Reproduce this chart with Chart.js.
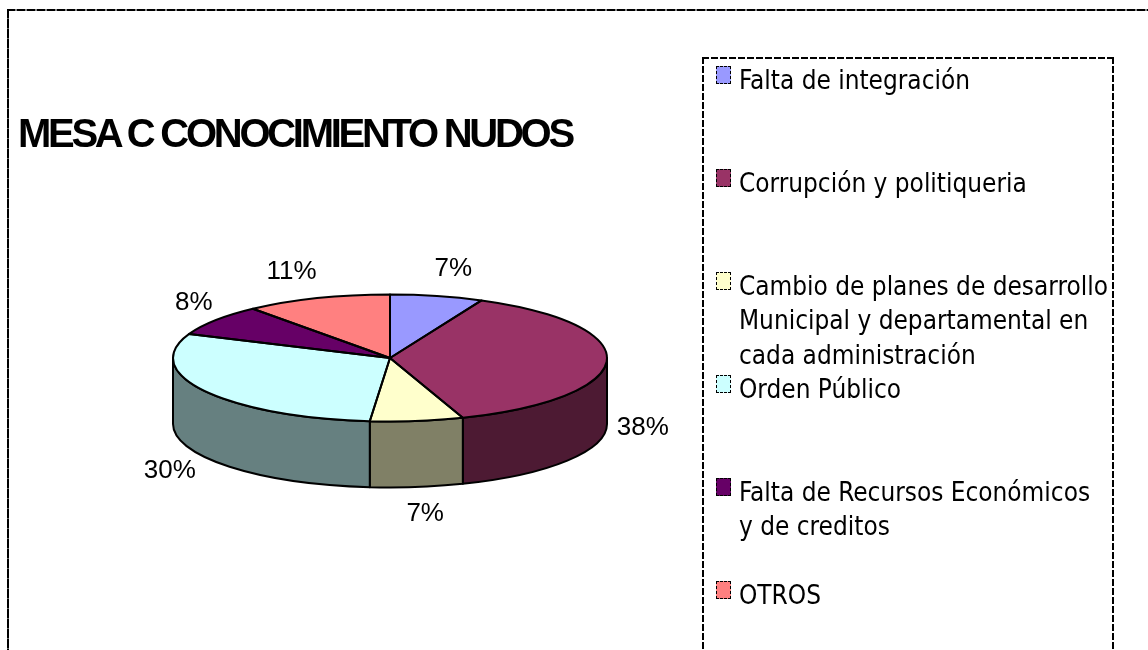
<!DOCTYPE html>
<html>
<head>
<meta charset="utf-8">
<script src="https://cdn.jsdelivr.net/npm/chart.js@4.4.1/dist/chart.umd.min.js"></script>
<style>
html,body{margin:0;padding:0;background:#fff;}
#wrap{position:relative;width:1148px;height:650px;overflow:hidden;background:#fff;}
#c{position:absolute;left:0;top:0;}
.hl{position:absolute;height:2px;background:repeating-linear-gradient(to right,#000 0 7px,#fff 7px 9px);}
.vl{position:absolute;width:2px;background:repeating-linear-gradient(to bottom,#000 0 7px,#fff 7px 9px);}
.hlo{position:absolute;height:2px;background:repeating-linear-gradient(to right,#000 0 8px,#888 8px 10px);}
.vlo{position:absolute;width:2px;background:repeating-linear-gradient(to bottom,#000 0 9px,#666 9px 10px);}
.txt{position:absolute;white-space:nowrap;color:#000;}
.sw{position:absolute;box-sizing:border-box;border:1.5px dashed #000;}
</style>
</head>
<body>
<div id="wrap">
  <canvas id="c" width="1148" height="650"></canvas>
  <div class="hlo" style="left:7px;top:9px;width:1141px;"></div>
  <div class="vlo" style="left:7px;top:9px;height:641px;"></div>
  <div class="hl" style="left:702px;top:57px;width:412px;"></div>
  <div class="vl" style="left:702px;top:57px;height:593px;"></div>
  <div class="vl" style="left:1112px;top:57px;height:593px;"></div>
</div>
<script>
// ---- data ----
const titleText = "MESA C CONOCIMIENTO NUDOS";
const categories = [
  "Falta de integración",
  "Corrupción y politiqueria",
  "Cambio de planes de desarrollo\nMunicipal y departamental en\ncada administración",
  "Orden Público",
  "Falta de Recursos Económicos\ny de creditos",
  "OTROS"
];
const percentValues = [7, 38, 7, 30, 8, 11];
const sliceColors = ["#9999FF", "#993366", "#FFFFCC", "#CCFFFF", "#660066", "#FF8080"];

function darken(hex, f) {
  const n = parseInt(hex.slice(1), 16);
  const r = Math.round(((n >> 16) & 255) * f), g = Math.round(((n >> 8) & 255) * f), b = Math.round((n & 255) * f);
  return "rgb(" + r + "," + g + "," + b + ")";
}
const wallColors = sliceColors.map(c => darken(c, 0.5));

const wrap = document.getElementById('wrap');

// place a text line so that its baseline sits at y = baseline
function placeLine(text, x, baseline, css) {
  const d = document.createElement('div');
  d.className = 'txt';
  d.style.cssText += css;
  d.style.left = x + 'px';
  d.style.top = '0px';
  d.textContent = text;
  const probe = document.createElement('span');
  probe.style.cssText = 'display:inline-block;width:0;height:0;vertical-align:baseline;';
  d.appendChild(probe);
  wrap.appendChild(d);
  const off = probe.getBoundingClientRect().bottom - d.getBoundingClientRect().top;
  d.style.top = (baseline - off) + 'px';
  return d;
}
function textWidth(text, css) {
  const s = document.createElement('span');
  s.className = 'txt';
  s.style.cssText += css;
  s.textContent = text;
  wrap.appendChild(s);
  const w = s.getBoundingClientRect().width;
  wrap.removeChild(s);
  return w;
}

// ---- title ----
(function () {
  const base = 'font-family:"Liberation Sans",Arial,sans-serif;font-weight:bold;font-size:40px;line-height:40px;';
  const w0 = textWidth(titleText, base);
  const ls = (557 - w0) / (titleText.length - 1);
  placeLine(titleText, 18, 147, base + 'letter-spacing:' + ls.toFixed(2) + 'px;');
})();

// ---- legend ----
(function () {
  const fam = 'font-family:"DejaVu Sans Condensed","DejaVu Sans",sans-serif;font-stretch:condensed;';
  const w = textWidth("Cambio de planes de desarrollo", fam + 'font-size:26px;');
  const fs = 26 * 369 / w;
  const css = fam + 'font-size:' + fs.toFixed(2) + 'px;line-height:34px;';
  const BASE0 = 89, STEP = 103, LINE = 34.3;
  categories.forEach((cat, i) => {
    const b = BASE0 + STEP * i;
    const sw = document.createElement('div');
    sw.className = 'sw';
    sw.style.left = '716px';
    sw.style.top = (b - 23) + 'px';
    sw.style.width = '15px';
    sw.style.height = '18px';
    sw.style.background = sliceColors[i];
    wrap.appendChild(sw);
    cat.split('\n').forEach((ln, j) => placeLine(ln, 739, b + LINE * j, css));
  });
})();

// ---- 3D pie ----
const K = 63.5 / 217;      // vertical squash of the top ellipse
const DEPTH = 66 / 217;    // wall height relative to radius
const pie3d = {
  id: 'pie3d',
  beforeDatasetsDraw(chart) {
    const ctx = chart.ctx;
    const arcs = chart.getDatasetMeta(0).data;
    const cx = arcs[0].x, cy = arcs[0].y, r = arcs[0].outerRadius;
    const ry = r * K, depth = r * DEPTH;
    ctx.save();
    ctx.lineWidth = 2;
    ctx.strokeStyle = '#000';
    ctx.lineJoin = 'round';
    arcs.forEach((arc, i) => {
      const a1 = Math.max(arc.startAngle, 0), a2 = Math.min(arc.endAngle, Math.PI);
      if (a2 <= a1) return;
      ctx.beginPath();
      ctx.ellipse(cx, cy, r, ry, 0, a1, a2, false);
      ctx.lineTo(cx + r * Math.cos(a2), cy + ry * Math.sin(a2) + depth);
      ctx.ellipse(cx, cy + depth, r, ry, 0, a2, a1, true);
      ctx.closePath();
      ctx.fillStyle = wallColors[i];
      ctx.fill();
      ctx.stroke();
    });
    ctx.translate(cx, cy);
    ctx.scale(1, K);
    ctx.translate(-cx, -cy);
  },
  afterDatasetsDraw(chart) {
    const ctx = chart.ctx;
    ctx.restore();
    const arcs = chart.getDatasetMeta(0).data;
    const cx = arcs[0].x, cy = arcs[0].y, r = arcs[0].outerRadius;
    const ry = r * K, depth = r * DEPTH;
    ctx.save();
    ctx.lineWidth = 2;
    ctx.strokeStyle = '#000';
    ctx.lineJoin = 'round';
    arcs.forEach(arc => {
      ctx.beginPath();
      ctx.moveTo(cx, cy);
      ctx.ellipse(cx, cy, r, ry, 0, arc.startAngle, arc.endAngle, false);
      ctx.closePath();
      ctx.stroke();
    });
    ctx.font = '26px "Liberation Sans", Arial, sans-serif';
    ctx.fillStyle = '#000';
    ctx.textAlign = 'center';
    ctx.textBaseline = 'middle';
    arcs.forEach((arc, i) => {
      const a = (arc.startAngle + arc.endAngle) / 2;
      const c = Math.cos(a), s = Math.sin(a);
      const txt = percentValues[i] + '%';
      const w = ctx.measureText(txt).width;
      let px = cx + r * c, py = cy + ry * s + (s > 0 ? depth : 0);
      px += Math.max(-1, Math.min(1, 3 * c)) * w / 2 + 10 * c;
      py += 27 * s;
      if (s < 0) { px += 5 * Math.abs(c) + 1; py -= 2 * Math.abs(c); }
      ctx.fillText(txt, px, py);
    });
    ctx.restore();
  }
};

new Chart(document.getElementById('c'), {
  type: 'pie',
  data: {
    labels: categories,
    datasets: [{
      data: percentValues,
      backgroundColor: sliceColors,
      borderWidth: 0,
      hoverOffset: 0
    }]
  },
  options: {
    responsive: false,
    animation: false,
    events: [],
    radius: 217,
    layout: { padding: { left: 0, right: 368, top: 66, bottom: 0 } },
    plugins: { legend: { display: false }, title: { display: false }, tooltip: { enabled: false } }
  },
  plugins: [pie3d]
});
</script>
</body>
</html>
